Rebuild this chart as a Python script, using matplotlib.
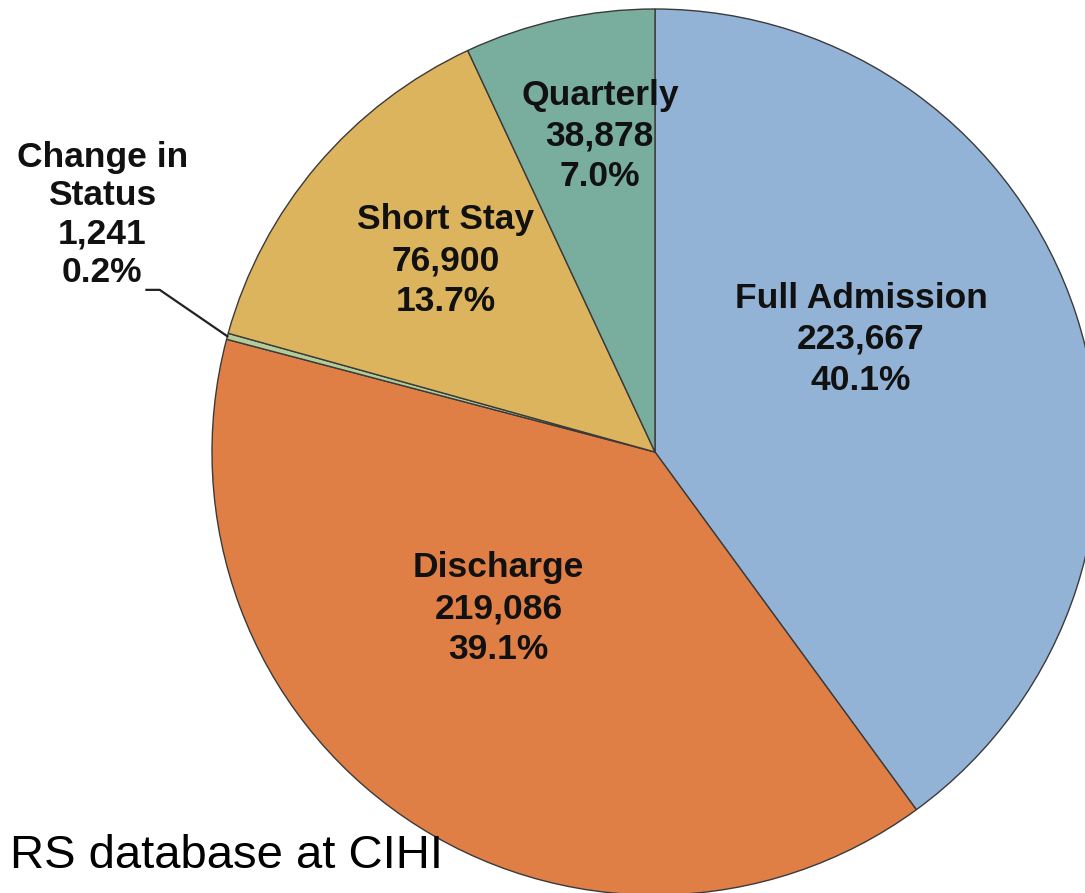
import numpy as np
import matplotlib
matplotlib.use("Agg")
import matplotlib.pyplot as plt

# Assessment types, drawn clockwise from 12 o'clock
categories = ["Full Admission", "Discharge", "Change in\nStatus", "Short Stay", "Quarterly"]
counts = [223667, 219086, 1241, 76900, 38878]
count_labels = ["223,667", "219,086", "1,241", "76,900", "38,878"]
pct_labels = ["40.1%", "39.1%", "0.2%", "13.7%", "7.0%"]
colors = ["#93B3D6", "#E07F45", "#B4CC98", "#DDB45E", "#79AD9D"]
footnote = "RS database at CIHI"

# label placement: (radius, angle offset from wedge middle in degrees)
label_pos = [(0.53, 10.6), (0.50, -10.7), None, (0.64, -2.2), (0.724, -2.6)]

plt.rcParams["font.family"] = ["Liberation Sans", "DejaVu Sans"]

fig = plt.figure(figsize=(10.85, 8.93), dpi=100)
ax = fig.add_axes([0, 0, 1, 1])

wedges, _ = ax.pie(
    counts,
    colors=colors,
    startangle=90,
    counterclock=False,
    radius=1.0,
    wedgeprops=dict(edgecolor="#3a3a3a", linewidth=1.0),
)

# pie centre sits at pixel (655, 452), radius 443 px
ax.set_xlim(-655 / 443, (1085 - 655) / 443)
ax.set_ylim(-(893 - 452) / 443, 452 / 443)
ax.set_aspect("auto")
ax.axis("off")

for i, w in enumerate(wedges):
    mid = np.deg2rad((w.theta1 + w.theta2) / 2)
    text = f"{categories[i]}\n{count_labels[i]}\n{pct_labels[i]}"
    if label_pos[i] is None:
        # small slice: label outside with a leader line
        ex, ey = np.cos(mid), np.sin(mid)
        ax.text(-1.248, 0.535, text, ha="center", va="center", fontsize=25.5,
                fontweight="bold", linespacing=1.2, color="#111111")
        ax.plot([-1.148, -1.118, ex], [0.366, 0.366, ey], color="#222222", lw=1.6)
        continue
    r, off = label_pos[i]
    a = mid + np.deg2rad(off)
    ax.text(r * np.cos(a), r * np.sin(a), text, ha="center", va="center",
            fontsize=25.5, fontweight="bold", linespacing=1.3, color="#111111")

fig.text(10 / 1085, 1 - 856 / 893, footnote, ha="left", va="center",
         fontsize=34, color="black")

fig.savefig("out.png", dpi=100)
